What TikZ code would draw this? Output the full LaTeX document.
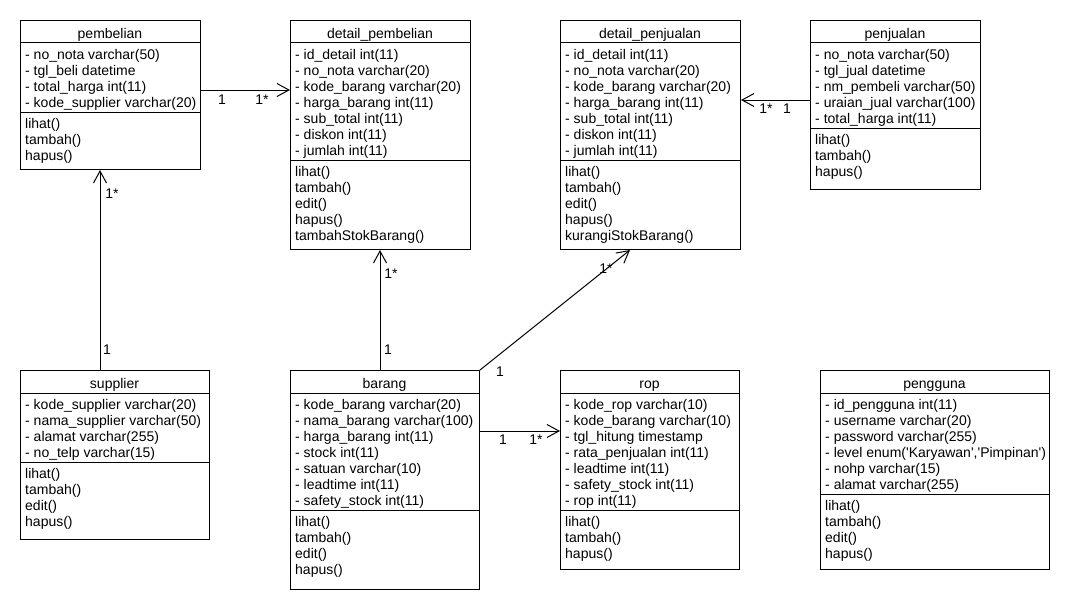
\documentclass[tikz,border=0pt]{standalone}
\usepackage{fontspec}
\setmainfont{Liberation Sans}
\usetikzlibrary{arrows.meta}

\tikzset{
  classbox/.style={draw, line width=1pt, inner sep=0pt, anchor=north west},
  sepline/.style={line width=1pt},
  titletext/.style={font=\fontsize{14}{16}\selectfont, inner sep=0pt, anchor=base},
  rowtext/.style={font=\fontsize{14}{16}\selectfont, inner sep=0pt, anchor=base west},
  mult/.style={font=\fontsize{14}{16}\selectfont, inner sep=0pt},
  assoc/.style={line width=1pt, -{Straight Barb[length=12pt,width=13pt]}},
}

% #1 name, #2 left, #3 top, #4 right, #5 methods separator, #6 bottom,
% #7 class name, #8 attributes, #9 operations
\newcommand\umlclass[9]{%
  \node[classbox, minimum width={(#4-#2)*1pt}, minimum height={(#6-#3)*1pt}] (#1) at (#2,#3) {};
  \draw[sepline] (#2,{#3+23}) -- (#4,{#3+23});
  \draw[sepline] (#2,#5) -- (#4,#5);
  \node[titletext] (#1-title) at ({(#2+#4)/2},{#3+18}) {#7};
  \foreach \t [count=\i from 0] in {#8}
    \node[rowtext] (#1-a\i) at ({#2+5},{#3+23+16.5+16*\i}) {\t};
  \foreach \t [count=\i from 0] in {#9}
    \node[rowtext] (#1-m\i) at ({#2+5},{#5+16.5+16*\i}) {\t};
}

\begin{document}
\begin{tikzpicture}[x=1pt, y=-1pt]
\useasboundingbox[fill=white] (0,0) rectangle (1070,610);

\umlclass{pembelian}{20}{20}{200}{112}{169}{pembelian}
  {- no\_nota varchar(50), - tgl\_beli datetime, - total\_harga int(11), - kode\_supplier varchar(20)}
  {lihat(), tambah(), hapus()}

\umlclass{dpemb}{290}{20}{470}{160}{249}{detail\_pembelian}
  {- id\_detail int(11), - no\_nota varchar(20), - kode\_barang varchar(20), - harga\_barang int(11),
   - sub\_total int(11), - diskon int(11), - jumlah int(11)}
  {lihat(), tambah(), edit(), hapus(), tambahStokBarang()}

\umlclass{dpenj}{560}{20}{740}{160}{249}{detail\_penjualan}
  {- id\_detail int(11), - no\_nota varchar(20), - kode\_barang varchar(20), - harga\_barang int(11),
   - sub\_total int(11), - diskon int(11), - jumlah int(11)}
  {lihat(), tambah(), edit(), hapus(), kurangiStokBarang()}

\umlclass{penjualan}{810}{20}{980}{128}{189}{penjualan}
  {- no\_nota varchar(50), - tgl\_jual datetime, - nm\_pembeli varchar(50), - uraian\_jual varchar(100),
   - total\_harga int(11)}
  {lihat(), tambah(), hapus()}

\umlclass{supplier}{20}{370}{209}{462}{539}{supplier}
  {- kode\_supplier varchar(20), - nama\_supplier varchar(50), - alamat varchar(255), - no\_telp varchar(15)}
  {lihat(), tambah(), edit(), hapus()}

\umlclass{barang}{290}{370}{479}{510}{589}{barang}
  {- kode\_barang varchar(20), - nama\_barang varchar(100), - harga\_barang int(11), - stock int(11),
   - satuan varchar(10), - leadtime int(11), - safety\_stock int(11)}
  {lihat(), tambah(), edit(), hapus()}

\umlclass{rop}{560}{370}{739}{510}{569}{rop}
  {- kode\_rop varchar(10), - kode\_barang varchar(10), - tgl\_hitung timestamp, - rata\_penjualan int(11),
   - leadtime int(11), - safety\_stock int(11), - rop int(11)}
  {lihat(), tambah(), hapus()}

\umlclass{pengguna}{820}{370}{1049}{494}{569}{pengguna}
  {- id\_pengguna int(11), - username varchar(20), - password varchar(255),
   {- level enum(\textquotesingle Karyawan\textquotesingle,\textquotesingle Pimpinan\textquotesingle)},
   - nohp varchar(15), - alamat varchar(255)}
  {lihat(), tambah(), edit(), hapus()}

% levels of the straight associations
\coordinate (yPb) at (0,90);
\coordinate (yPj) at (0,100);
\coordinate (yBr) at (0,431);
\coordinate (xSp) at (100,0);
\coordinate (xBr) at (380,0);

% associations
\draw[assoc] (pembelian.east |- yPb) -- (dpemb.west |- yPb);
\draw[assoc] (penjualan.west |- yPj) -- (dpenj.east |- yPj);
\draw[assoc] (supplier.north -| xSp) -- (pembelian.south -| xSp);
\draw[assoc] (barang.north -| xBr) -- (dpemb.south -| xBr);
\draw[assoc] (barang.north east) -- ([xshift=70pt]dpenj.south west);
\draw[assoc] (barang.east |- yBr) -- (rop.west |- yBr);

% multiplicities
\node[mult] (m1) at (222,100) {1};
\node[mult] (m2) at (262,100) {1*};
\node[mult] (m3) at (766,109) {1*};
\node[mult] (m4) at (787,109) {1};
\node[mult] (m5) at (112,194) {1*};
\node[mult] (m6) at (107,350) {1};
\node[mult] (m7) at (391,274) {1*};
\node[mult] (m8) at (388,350) {1};
\node[mult] (m9) at (606,269) {1*};
\node[mult] (m10) at (500,372) {1};
\node[mult] (m11) at (503,440) {1};
\node[mult] (m12) at (536,440) {1*};
\end{tikzpicture}
\end{document}
